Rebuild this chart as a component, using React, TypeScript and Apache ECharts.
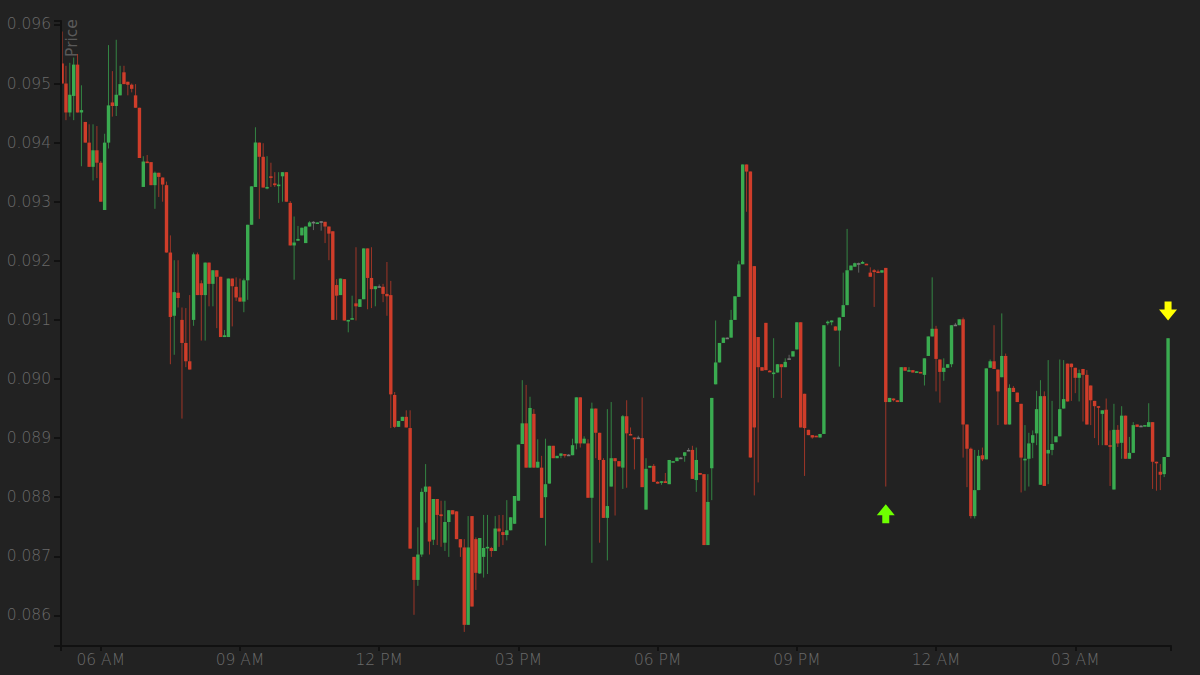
import React, { useEffect, useRef } from "react";
import * as echarts from "echarts";

const opens = [
0.09534,0.09500,0.09451,0.09479,0.09532,0.09451,0.09435,0.09400,0.09359,0.09387,
0.09366,0.09286,0.09400,0.09468,0.09462,0.09480,0.09519,0.09503,0.09498,0.09480,
0.09459,0.09325,0.09368,0.09367,0.09328,0.09349,0.09341,0.09328,0.09214,0.09107,
0.09146,0.09100,0.09061,0.09030,0.09100,0.09211,0.09162,0.09142,0.09197,0.09161,
0.09184,0.09173,0.09071,0.09071,0.09170,0.09156,0.09138,0.09131,0.09167,0.09261,
0.09325,0.09400,0.09376,0.09324,0.09343,0.09331,0.09327,0.09343,0.09350,0.09298,
0.09226,0.09234,0.09243,0.09230,0.09258,0.09266,0.09264,0.09267,0.09266,0.09258,
0.09250,0.09159,0.09142,0.09169,0.09098,0.09101,0.09128,0.09122,0.09135,0.09221,
0.09171,0.09152,0.09157,0.09156,0.09144,0.09142,0.08973,0.08919,0.08929,0.08936,
0.08917,0.08699,0.08660,0.08703,0.08809,0.08818,0.08728,0.08797,0.08771,0.08723,
0.08758,0.08778,0.08776,0.08729,0.08715,0.08584,0.08768,0.08729,0.08671,0.08699,
0.08714,0.08714,0.08709,0.08747,0.08741,0.08736,0.08744,0.08755,0.08794,0.08890,
0.08925,0.08850,0.08941,0.08850,0.08850,0.08800,0.08823,0.08887,0.08866,0.08870,
0.08873,0.08872,0.08871,0.08891,0.08969,0.08891,0.08891,0.08799,0.08950,0.08909,
0.08863,0.08765,0.08818,0.08866,0.08861,0.08850,0.08937,0.08907,0.08901,0.08901,
0.08900,0.08779,0.08850,0.08853,0.08826,0.08825,0.08827,0.08822,0.08860,0.08861,
0.08867,0.08870,0.08880,0.08880,0.08829,0.08841,0.08839,0.08719,0.08849,0.08991,
0.09028,0.09061,0.09070,0.09070,0.09100,0.09139,0.09194,0.09363,0.09351,0.09191,
0.09071,0.09020,0.09095,0.09014,0.09009,0.09011,0.09025,0.09020,0.09035,0.09038,
0.09050,0.09096,0.08975,0.08914,0.08905,0.08904,0.08901,0.08907,0.09095,0.09096,
0.09089,0.09082,0.09105,0.09125,0.09184,0.09190,0.09196,0.09195,0.09195,0.09180,
0.09184,0.09182,0.09180,0.09188,0.08961,0.08967,0.08964,0.08961,0.09020,0.09014,
0.09015,0.09011,0.09012,0.09007,0.09039,0.09072,0.09085,0.09033,0.09012,0.09019,
0.09025,0.09092,0.09091,0.09101,0.08923,0.08882,0.08768,0.08812,0.08871,0.08864,
0.09019,0.09030,0.09016,0.09003,0.09039,0.08923,0.08985,0.08977,0.08958,0.08864,
0.08865,0.08892,0.08908,0.08821,0.08971,0.08874,0.08880,0.08893,0.08903,0.08950,
0.09026,0.09026,0.09019,0.09002,0.09017,0.09007,0.08989,0.08963,0.08954,0.08941,
0.08948,0.08888,0.08813,0.08914,0.08892,0.08938,0.08865,0.08875,0.08923,0.08921,
0.08921,0.08919,0.08927,0.08860,0.08843,0.08839,0.08868,
];
const closes = [
0.09500,0.09451,0.09481,0.09532,0.09451,0.09455,0.09400,0.09359,0.09387,0.09366,
0.09300,0.09400,0.09463,0.09462,0.09481,0.09499,0.09499,0.09498,0.09491,0.09459,
0.09374,0.09368,0.09366,0.09328,0.09349,0.09342,0.09329,0.09214,0.09105,0.09147,
0.09137,0.09061,0.09030,0.09016,0.09211,0.09142,0.09142,0.09197,0.09161,0.09184,
0.09173,0.09071,0.09074,0.09170,0.09157,0.09138,0.09131,0.09167,0.09261,0.09326,
0.09400,0.09376,0.09324,0.09325,0.09341,0.09328,0.09329,0.09350,0.09300,0.09226,
0.09231,0.09237,0.09256,0.09258,0.09265,0.09266,0.09265,0.09267,0.09258,0.09246,
0.09100,0.09141,0.09170,0.09099,0.09100,0.09103,0.09123,0.09135,0.09221,0.09171,
0.09152,0.09157,0.09157,0.09144,0.09140,0.08974,0.08919,0.08929,0.08936,0.08918,
0.08713,0.08660,0.08703,0.08809,0.08818,0.08725,0.08797,0.08770,0.08768,0.08758,
0.08778,0.08771,0.08729,0.08715,0.08584,0.08715,0.08615,0.08672,0.08731,0.08714,
0.08716,0.08709,0.08747,0.08742,0.08736,0.08744,0.08766,0.08802,0.08889,0.08925,
0.08850,0.08951,0.08850,0.08860,0.08765,0.08822,0.08887,0.08866,0.08870,0.08874,
0.08871,0.08872,0.08888,0.08969,0.08891,0.08899,0.08799,0.08950,0.08909,0.08863,
0.08765,0.08785,0.08866,0.08861,0.08852,0.08937,0.08908,0.08905,0.08898,0.08901,
0.08817,0.08848,0.08853,0.08826,0.08823,0.08827,0.08824,0.08863,0.08861,0.08867,
0.08867,0.08876,0.08880,0.08831,0.08863,0.08838,0.08719,0.08792,0.08968,0.09028,
0.09061,0.09070,0.09070,0.09100,0.09140,0.09194,0.09363,0.09351,0.08867,0.08918,
0.09020,0.09014,0.09015,0.09012,0.09011,0.09025,0.09020,0.09029,0.09035,0.09047,
0.09096,0.08918,0.08917,0.08905,0.08901,0.08902,0.08907,0.09091,0.09097,0.09099,
0.09082,0.09104,0.09125,0.09184,0.09192,0.09196,0.09196,0.09198,0.09193,0.09173,
0.09181,0.09180,0.09184,0.08961,0.08968,0.08964,0.08961,0.09020,0.09014,0.09015,
0.09011,0.09013,0.09011,0.09035,0.09072,0.09085,0.09034,0.09012,0.09019,0.09025,
0.09091,0.09092,0.09101,0.08923,0.08882,0.08768,0.08812,0.08870,0.08864,0.09018,
0.09030,0.09017,0.08979,0.09039,0.08923,0.08985,0.08978,0.08961,0.08867,0.08865,
0.08891,0.08905,0.08949,0.08971,0.08819,0.08880,0.08890,0.08903,0.08949,0.08966,
0.08962,0.09020,0.09002,0.09010,0.09007,0.08923,0.08964,0.08954,0.08953,0.08947,
0.08888,0.08887,0.08914,0.08891,0.08938,0.08865,0.08875,0.08922,0.08919,0.08921,
0.08922,0.08927,0.08860,0.08858,0.08838,0.08868,0.09069,
];
const lows = [
0.09500,0.09438,0.09444,0.09438,0.09451,0.09360,0.09400,0.09359,0.09336,0.09340,
0.09300,0.09286,0.09390,0.09444,0.09445,0.09480,0.09499,0.09480,0.09485,0.09459,
0.09374,0.09325,0.09366,0.09328,0.09288,0.09308,0.09300,0.09214,0.09025,0.09041,
0.09121,0.08933,0.09020,0.09016,0.09090,0.09142,0.09065,0.09065,0.09123,0.09123,
0.09086,0.09071,0.09071,0.09071,0.09089,0.09132,0.09131,0.09113,0.09134,0.09261,
0.09325,0.09271,0.09324,0.09321,0.09325,0.09325,0.09298,0.09300,0.09300,0.09226,
0.09168,0.09234,0.09243,0.09230,0.09258,0.09252,0.09264,0.09251,0.09230,0.09201,
0.09100,0.09100,0.09142,0.09099,0.09079,0.09101,0.09099,0.09122,0.09135,0.09118,
0.09120,0.09123,0.09155,0.09130,0.09107,0.08917,0.08917,0.08919,0.08929,0.08918,
0.08713,0.08601,0.08650,0.08699,0.08757,0.08703,0.08719,0.08719,0.08716,0.08709,
0.08699,0.08771,0.08729,0.08699,0.08572,0.08584,0.08615,0.08643,0.08670,0.08664,
0.08670,0.08699,0.08709,0.08716,0.08719,0.08727,0.08744,0.08755,0.08794,0.08890,
0.08850,0.08850,0.08850,0.08850,0.08765,0.08718,0.08823,0.08866,0.08866,0.08866,
0.08867,0.08870,0.08871,0.08881,0.08884,0.08891,0.08799,0.08689,0.08866,0.08723,
0.08765,0.08693,0.08818,0.08769,0.08852,0.08814,0.08816,0.08905,0.08847,0.08899,
0.08817,0.08779,0.08850,0.08826,0.08823,0.08821,0.08824,0.08822,0.08860,0.08861,
0.08866,0.08860,0.08880,0.08831,0.08809,0.08838,0.08719,0.08719,0.08795,0.08991,
0.09028,0.09061,0.09070,0.09070,0.09100,0.09139,0.09194,0.09283,0.08867,0.08803,
0.08825,0.09014,0.09015,0.09012,0.08968,0.09011,0.08968,0.09020,0.09034,0.09038,
0.09050,0.08918,0.08836,0.08905,0.08899,0.08902,0.08901,0.08907,0.09091,0.09091,
0.09082,0.09021,0.09105,0.09125,0.09184,0.09190,0.09180,0.09195,0.09193,0.09173,
0.09122,0.09180,0.09180,0.08818,0.08961,0.08962,0.08961,0.08961,0.09014,0.09014,
0.09011,0.09011,0.09011,0.08989,0.09039,0.09072,0.08979,0.08960,0.08997,0.09019,
0.09020,0.09090,0.09091,0.08867,0.08817,0.08764,0.08764,0.08812,0.08861,0.08864,
0.09019,0.09017,0.08922,0.09003,0.08923,0.08923,0.08978,0.08961,0.08808,0.08811,
0.08818,0.08866,0.08888,0.08821,0.08819,0.08822,0.08871,0.08893,0.08903,0.08950,
0.08962,0.08963,0.08976,0.08962,0.08928,0.08923,0.08922,0.08900,0.08888,0.08888,
0.08888,0.08819,0.08813,0.08885,0.08865,0.08865,0.08865,0.08875,0.08919,0.08920,
0.08921,0.08919,0.08814,0.08811,0.08812,0.08834,0.08868,
];
const highs = [
0.09588,0.09530,0.09535,0.09544,0.09550,0.09497,0.09435,0.09431,0.09431,0.09428,
0.09369,0.09415,0.09565,0.09521,0.09574,0.09530,0.09530,0.09503,0.09500,0.09499,
0.09459,0.09377,0.09379,0.09367,0.09351,0.09349,0.09341,0.09334,0.09243,0.09201,
0.09201,0.09121,0.09120,0.09142,0.09214,0.09214,0.09167,0.09197,0.09197,0.09184,
0.09184,0.09173,0.09083,0.09170,0.09170,0.09172,0.09170,0.09170,0.09261,0.09326,
0.09426,0.09400,0.09399,0.09377,0.09366,0.09350,0.09350,0.09350,0.09350,0.09301,
0.09275,0.09259,0.09256,0.09258,0.09267,0.09267,0.09265,0.09267,0.09266,0.09258,
0.09250,0.09169,0.09170,0.09169,0.09100,0.09141,0.09223,0.09135,0.09221,0.09221,
0.09223,0.09157,0.09160,0.09161,0.09198,0.09166,0.08978,0.08929,0.08936,0.08947,
0.08947,0.08699,0.08749,0.08815,0.08856,0.08818,0.08797,0.08797,0.08794,0.08794,
0.08778,0.08778,0.08776,0.08729,0.08729,0.08768,0.08768,0.08732,0.08731,0.08770,
0.08770,0.08716,0.08768,0.08770,0.08770,0.08795,0.08766,0.08802,0.08889,0.08998,
0.08990,0.08970,0.08949,0.08898,0.08870,0.08899,0.08887,0.08887,0.08870,0.08874,
0.08873,0.08873,0.08899,0.08969,0.08969,0.08903,0.08898,0.08960,0.08950,0.08909,
0.08866,0.08949,0.08961,0.08866,0.08861,0.08939,0.08964,0.08918,0.08901,0.08904,
0.08969,0.08866,0.08853,0.08856,0.08827,0.08827,0.08841,0.08863,0.08861,0.08867,
0.08868,0.08876,0.08883,0.08887,0.08884,0.08841,0.08839,0.08839,0.08968,0.09099,
0.09061,0.09070,0.09071,0.09117,0.09140,0.09200,0.09363,0.09363,0.09351,0.09191,
0.09071,0.09020,0.09095,0.09015,0.09069,0.09025,0.09025,0.09035,0.09041,0.09047,
0.09096,0.09096,0.08975,0.08914,0.08905,0.08904,0.08907,0.09091,0.09099,0.09099,
0.09089,0.09104,0.09180,0.09254,0.09192,0.09197,0.09197,0.09200,0.09195,0.09189,
0.09186,0.09185,0.09184,0.09188,0.08968,0.08967,0.08964,0.09020,0.09020,0.09020,
0.09015,0.09013,0.09012,0.09035,0.09072,0.09172,0.09090,0.09033,0.09035,0.09025,
0.09091,0.09095,0.09101,0.09104,0.08923,0.08884,0.08880,0.08880,0.08884,0.09018,
0.09033,0.09091,0.09016,0.09111,0.09043,0.08991,0.08988,0.08977,0.08958,0.08922,
0.08909,0.08913,0.08980,0.08998,0.08979,0.09032,0.08963,0.08903,0.09033,0.09032,
0.09026,0.09026,0.09019,0.09016,0.09017,0.09015,0.08989,0.08963,0.08954,0.08947,
0.08967,0.08913,0.08958,0.08922,0.08954,0.08938,0.08902,0.08927,0.08923,0.08922,
0.08922,0.08959,0.08927,0.08860,0.08856,0.08868,0.09069,
];

const priceTicks = [0.086, 0.087, 0.088, 0.089, 0.09, 0.091, 0.092, 0.093, 0.094, 0.095, 0.096];
const timeTickIndex = [10, 46, 82, 118, 154, 190, 226, 262];
const timeLabels = ["06 AM", "09 AM", "12 PM", "03 PM", "06 PM", "09 PM", "12 AM", "03 AM"];
const buySignal = [[213, 0.08772]];
const sellSignal = [[286, 0.09115]];

const Y_MIN = 0.085482;
const Y_MAX = 0.096058;
const X_MIN = -0.284;
const X_MAX = 286.76;

const BG = "#222222";
const GREEN = "#3aab50";
const RED = "#cf3d2a";
const GRAY = "#7a7a7a";
const AXIS = "#111111";
const TEXT = "#6a6a6a";
const BODY_W = 3.4;

const UP_ARROW = "path://M9 0L18 11L12.5 11L12.5 19L5.5 19L5.5 11L0 11Z";
const DOWN_ARROW = "path://M5.5 0L12.5 0L12.5 8L18 8L9 19L0 8L5.5 8Z";

const rows = opens.map((o, i) => [i, o, closes[i], lows[i], highs[i]]);

function renderCandle(_params: any, api: any) {
  const i = api.value(0);
  const o = api.value(1);
  const c = api.value(2);
  const l = api.value(3);
  const h = api.value(4);
  const color = c > o ? GREEN : c < o ? RED : GRAY;
  const [x, yO] = api.coord([i, o]);
  const yC = api.coord([i, c])[1];
  const yL = api.coord([i, l])[1];
  const yH = api.coord([i, h])[1];
  const top = Math.min(yO, yC);
  const height = Math.max(Math.abs(yO - yC), 1.6);
  return {
    type: "group",
    children: [
      {
        type: "line",
        shape: { x1: x, y1: yH, x2: x, y2: yL },
        style: { stroke: color, lineWidth: 1, fill: null, opacity: 0.72 },
      },
      {
        type: "rect",
        shape: { x: x - BODY_W / 2, y: top, width: BODY_W, height },
        style: { fill: color, stroke: null },
      },
    ],
  };
}

export default function App() {
  const ref = useRef<HTMLDivElement>(null);
  useEffect(() => {
    const chart = echarts.init(ref.current!, null, { renderer: "svg" });
    chart.setOption({
      animation: false,
      backgroundColor: BG,
      grid: { left: 61, right: 29, top: 21, bottom: 29 },
      xAxis: {
        type: "value",
        min: X_MIN,
        max: X_MAX,
        z: 5,
        splitLine: { show: false },
        axisLine: { show: true, onZero: false, lineStyle: { color: AXIS, width: 2 } },
        axisTick: { show: true, length: 5, customValues: [X_MIN, ...timeTickIndex, X_MAX], lineStyle: { color: AXIS, width: 2 } },
        axisLabel: {
          customValues: timeTickIndex,
          color: TEXT,
          fontFamily: "DejaVu Sans",
          fontWeight: 200,
          fontSize: 15.5,
          margin: 6,
          formatter: (v: number) => timeLabels[timeTickIndex.indexOf(Math.round(v))] ?? "",
        },
      },
      yAxis: {
        type: "value",
        min: Y_MIN,
        max: Y_MAX,
        z: 5,
        splitLine: { show: false },
        axisLine: { show: true, onZero: false, lineStyle: { color: AXIS, width: 2 } },
        axisTick: { show: true, length: 7, customValues: [Y_MIN, ...priceTicks, Y_MAX], lineStyle: { color: AXIS, width: 2 } },
        axisLabel: {
          customValues: priceTicks,
          color: TEXT,
          fontFamily: "DejaVu Sans",
          fontWeight: 200,
          fontSize: 15.5,
          margin: 10,
          formatter: (v: number) => v.toFixed(3),
        },
      },
      graphic: [
        {
          type: "text",
          x: 71.5,
          y: 38,
          rotation: Math.PI / 2,
          style: {
            text: "Price",
            fill: "#5a5a5a",
            font: "15.5px 'DejaVu Sans'",
            align: "center",
            verticalAlign: "middle",
          },
        },
      ],
      series: [
        {
          type: "custom",
          name: "Price",
          clip: true,
          silent: true,
          data: rows,
          dimensions: ["index", "open", "close", "low", "high"],
          encode: { x: 0, y: [1, 2, 3, 4] },
          renderItem: renderCandle,
        },
        {
          type: "scatter",
          name: "Buy",
          silent: true,
          data: buySignal,
          symbol: UP_ARROW,
          symbolSize: [18, 19],
          itemStyle: { color: "#6eff00", opacity: 1 },
        },
        {
          type: "scatter",
          name: "Sell",
          silent: true,
          data: sellSignal,
          symbol: DOWN_ARROW,
          symbolSize: [18, 19],
          itemStyle: { color: "#ffff00", opacity: 1 },
        },
      ],
    });
    return () => chart.dispose();
  }, []);
  return <div ref={ref} style={{ position: "absolute", left: 0, top: 0, width: 1200, height: 675 }} />;
}
